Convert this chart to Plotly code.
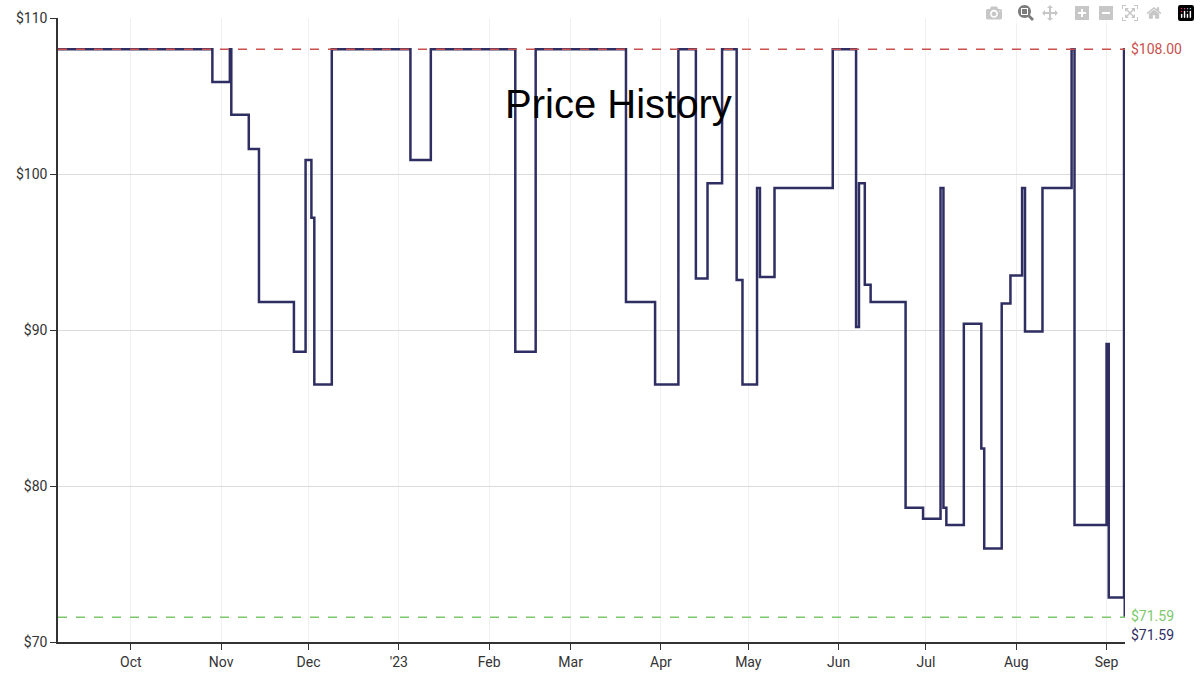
import plotly.graph_objects as go

dates = ["2022-09-06","2022-10-29","2022-11-04 00:00","2022-11-04 12:00","2022-11-10 12:00","2022-11-14",
         "2022-11-26","2022-11-30","2022-12-02","2022-12-03","2022-12-09","2023-01-05","2023-01-12",
         "2023-02-10","2023-02-17","2023-03-20","2023-03-30","2023-04-07","2023-04-13","2023-04-17",
         "2023-04-22","2023-04-27","2023-04-29","2023-05-04","2023-05-05","2023-05-10","2023-05-30",
         "2023-06-07","2023-06-08","2023-06-10","2023-06-12","2023-06-24","2023-06-30","2023-07-06",
         "2023-07-07","2023-07-08","2023-07-14","2023-07-20","2023-07-21","2023-07-27","2023-07-30",
         "2023-08-03","2023-08-04","2023-08-10","2023-08-20","2023-08-21","2023-09-01","2023-09-01 18:00",
         "2023-09-07 00:00","2023-09-07 06:00"]
prices = [108,105.9,108,103.8,101.6,91.8,
          88.6,100.9,97.2,86.5,108,100.9,108,
          88.6,108,91.8,86.5,108,93.3,99.4,
          108,93.2,86.5,99.1,93.4,99.1,108,
          90.2,99.4,92.9,91.8,78.6,77.9,99.1,
          78.6,77.5,90.4,82.4,76.0,91.7,93.5,
          99.1,89.9,99.1,108,77.5,89.1,72.85,
          108,71.59]
high_price = 108.00
low_price = 71.59
last_price = 71.59
y_ticks = [70, 80, 90, 100, 110]
y_tick_labels = ["$70", "$80", "$90", "$100", "$110"]
x_tick_vals = ["2022-10-01","2022-11-01","2022-12-01","2023-01-01","2023-02-01","2023-03-01",
               "2023-04-01","2023-05-01","2023-06-01","2023-07-01","2023-08-01","2023-09-01"]
x_tick_labels = ["Oct","Nov","Dec","'23","Feb","Mar","Apr","May","Jun","Jul","Aug","Sep"]

navy = "#2f2e62"
red = "#c9504d"
green = "#7cc86c"
x0, x1 = "2022-09-06", "2023-09-07 08:00"

fig = go.Figure()
fig.add_trace(go.Scatter(x=dates, y=prices, mode="lines", line=dict(shape="hv", color=navy, width=2.5),
                         showlegend=False, hoverinfo="skip"))
fig.add_trace(go.Scatter(x=[x0, x1], y=[high_price, high_price], mode="lines",
                         line=dict(color=red, width=1.5, dash="dash"), showlegend=False))
fig.add_trace(go.Scatter(x=[x0, x1], y=[low_price, low_price], mode="lines",
                         line=dict(color=green, width=1.5, dash="dash"), showlegend=False))

fig.add_annotation(x=1, xref="paper", y=high_price, yref="y", text=f"${high_price:.2f}", showarrow=False,
                   xanchor="left", xshift=4, font=dict(color=red, size=14, family="Roboto"))
fig.add_annotation(x=1, xref="paper", y=low_price, yref="y", text=f"${low_price:.2f}", showarrow=False,
                   xanchor="left", xshift=4, yshift=1, font=dict(color=green, size=14, family="Roboto"))
fig.add_annotation(x=1, xref="paper", y=last_price, yref="y", text=f"${last_price:.2f}", showarrow=False,
                   xanchor="left", xshift=4, yshift=-18, font=dict(color=navy, size=14, family="Roboto"))
fig.add_annotation(x=0.525, xref="paper", y=104.5, yref="y", text="Price History", showarrow=False,
                   font=dict(color="black", size=40, family="Liberation Sans"))

fig.update_layout(
    width=1200, height=681, margin=dict(l=58, r=75, t=10, b=39),
    plot_bgcolor="white", paper_bgcolor="white",
    font=dict(family="Roboto", size=14, color="#333"),
    xaxis=dict(range=[x0, x1], tickvals=x_tick_vals, ticktext=x_tick_labels, ticks="outside",
               ticklen=6, tickcolor="#333", showline=True, linecolor="#333", linewidth=1.5,
               showgrid=True, gridcolor="#f0f0f0", zeroline=False),
    yaxis=dict(range=[70, 110], tickvals=y_ticks, ticktext=y_tick_labels, ticks="outside",
               ticklen=6, tickcolor="#333", showline=True, linecolor="#333", linewidth=1.5,
               showgrid=True, gridcolor="#dcdcdc", zeroline=False),
)
fig.write_html("out.html", post_script="document.body.style.margin='0';")
